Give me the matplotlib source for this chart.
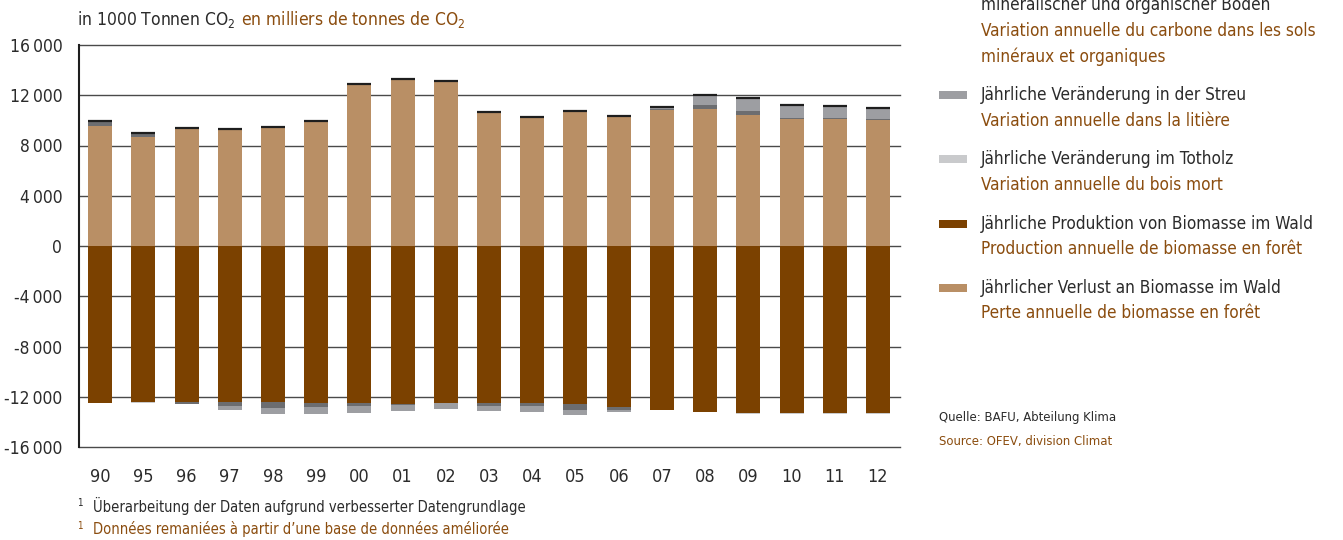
import matplotlib
matplotlib.use("Agg")
import matplotlib.pyplot as plt
from matplotlib.patches import Rectangle
import numpy as np

plt.rcParams['font.family'] = ['DejaVu Sans']
plt.rcParams['font.stretch'] = 'condensed'
plt.rcParams['mathtext.fontset'] = 'dejavusans'

years = ['90', '95', '96', '97', '98', '99', '00', '01', '02', '03', '04', '05',
         '06', '07', '08', '09', '10', '11', '12']

# positive contributions
loss_pos = [9550, 8670, 9410, 9330, 9490, 9970, 12890, 13310, 13130, 10690, 10290,
            10740, 10370, 10820, 10900, 10420, 10100, 10080, 10020]
soil_pos = [370, 240, 0, 0, 0, 0, 0, 0, 0, 0, 0, 0, 0, 80, 320, 320, 80, 80, 80]
litter_pos = [50, 60, 0, 0, 0, 0, 0, 0, 0, 0, 0, 0, 0, 160, 820, 1030, 1060, 1000, 900]
deadwood_pos = [0] * 19

# negative contributions
production_neg = [-12470, -12440, -12410, -12440, -12440, -12520, -12520, -12550, -12490,
                  -12520, -12520, -12550, -12780, -13020, -13230, -13310, -13310, -13310, -13310]
soil_neg = [0, 0, -130, -270, -430, -300, -190, -100, 0, -210, -210, -500, -240,
            0, 0, 0, 0, 0, 0]
litter_neg = [0, 0, 0, -320, -530, -580, -610, -500, -500, -420, -450, -420, -210,
              0, 0, 0, 0, 0, 0]
deadwood_neg = [-50, -40, 0, 0, 0, 0, 0, 0, 0, 0, 0, 0, 0, 0, 0, -40, -40, -40, -40]

yticks = [16000, 12000, 8000, 4000, 0, -4000, -8000, -12000, -16000]

C_TAN = '#b98f65'
C_BROWN = '#7b4100'
C_SOIL = '#6c6d70'
C_LITTER = '#9d9ea2'
C_DEAD = '#c9cacc'
C_DE = '#2b2b2b'
C_FR = '#8b4d0f'

W, H = 1343, 540
fig = plt.figure(figsize=(W / 100, H / 100), dpi=100)
ax = fig.add_axes([79 / W, 1 - 447 / H, (900 - 79) / W, (447 - 45) / H])

x = np.arange(len(years))
bw = 0.555

# positive stack
bottom = np.zeros(len(years))
for vals, col in [(loss_pos, C_TAN), (soil_pos, C_SOIL), (litter_pos, C_LITTER), (deadwood_pos, C_DEAD)]:
    v = np.array(vals, dtype=float)
    ax.bar(x, v, bw, bottom=bottom, color=col, zorder=3, linewidth=0)
    bottom += v
# thin dark cap on top of positive stacks
ax.hlines(bottom, x - bw / 2, x + bw / 2, colors='#1e1e1e', linewidth=1.6, zorder=4)

# negative stack
bottom = np.zeros(len(years))
for vals, col in [(production_neg, C_BROWN), (soil_neg, C_SOIL), (litter_neg, C_LITTER), (deadwood_neg, C_DEAD)]:
    v = np.array(vals, dtype=float)
    ax.bar(x, v, bw, bottom=bottom, color=col, zorder=3, linewidth=0)
    bottom += v

ax.set_xlim(-0.49, len(years) - 0.49)
ax.set_ylim(-16000, 16000)
ax.set_yticks(yticks)
ax.set_yticklabels([f"{v:,}".replace(',', '\u2009') for v in yticks])
ax.set_xticks(x)
ax.set_xticklabels(years)
for yv in yticks:
    ax.axhline(yv, color='#4a4a4a', linewidth=1.0, zorder=1, clip_on=False)
ax.tick_params(axis='y', length=0, pad=12, labelsize=12.5, labelcolor=C_DE)
ax.tick_params(axis='x', length=0, pad=15, labelsize=13, labelcolor=C_DE)
for s in ['top', 'right', 'bottom']:
    ax.spines[s].set_visible(False)
ax.spines['left'].set_color('#1e1e1e')
ax.spines['left'].set_linewidth(1.5)


def fy(py):
    return 1 - py / H


def fx(px):
    return px / W


# title
t1 = fig.text(fx(77), fy(20), 'in 1000 Tonnen CO$_2$', color=C_DE, fontsize=12.5, va='center', ha='left')
fig.canvas.draw()
bb = t1.get_window_extent()
fig.text((bb.x1 + 5) / W, fy(20), 'en milliers de tonnes de CO$_2$', color=C_FR, fontsize=12.5,
         va='center', ha='left')

# legend (first entry is partly above the top edge, as in the original)
legend = [
    (C_SOIL, ['Jährliche Veränderung des Kohlenstoffs in', 'mineralischer und organischer Boden'],
     ['Variation annuelle du carbone dans les sols', 'minéraux et organiques'], -20),
    (C_LITTER, ['Jährliche Veränderung in der Streu'], ['Variation annuelle dans la litière'], 95),
    (C_DEAD, ['Jährliche Veränderung im Totholz'], ['Variation annuelle du bois mort'], 159),
    (C_BROWN, ['Jährliche Produktion von Biomasse im Wald'], ['Production annuelle de biomasse en forêt'], 224),
    (C_TAN, ['Jährlicher Verlust an Biomasse im Wald'], ['Perte annuelle de biomasse en forêt'], 288),
]
LS = 25.5
for col, de, fr, y0 in legend:
    fig.patches.append(Rectangle((fx(939), fy(y0 + 4)), 28 / W, 8 / H, transform=fig.transFigure,
                                 facecolor=col, edgecolor='none'))
    yy = y0
    for line in de:
        fig.text(fx(981), fy(yy), line, color=C_DE, fontsize=12.3, va='center', ha='left')
        yy += LS
    for line in fr:
        fig.text(fx(981), fy(yy), line, color=C_FR, fontsize=12.3, va='center', ha='left')
        yy += LS

# source
fig.text(fx(939), fy(417), 'Quelle: BAFU, Abteilung Klima', color=C_DE, fontsize=9.4, va='center', ha='left')
fig.text(fx(939), fy(441), 'Source: OFEV, division Climat', color=C_FR, fontsize=9.4, va='center', ha='left')

# footnotes
fig.text(fx(77), fy(503), '1', color=C_DE, fontsize=7, va='center', ha='left')
fig.text(fx(93), fy(506), 'Überarbeitung der Daten aufgrund verbesserter Datengrundlage', color=C_DE,
         fontsize=10.5, va='center', ha='left')
fig.text(fx(77), fy(526), '1', color=C_FR, fontsize=7, va='center', ha='left')
fig.text(fx(93), fy(529), 'Données remaniées à partir d\u2019une base de données améliorée', color=C_FR,
         fontsize=10.5, va='center', ha='left')

fig.savefig('out.png', dpi=100)
